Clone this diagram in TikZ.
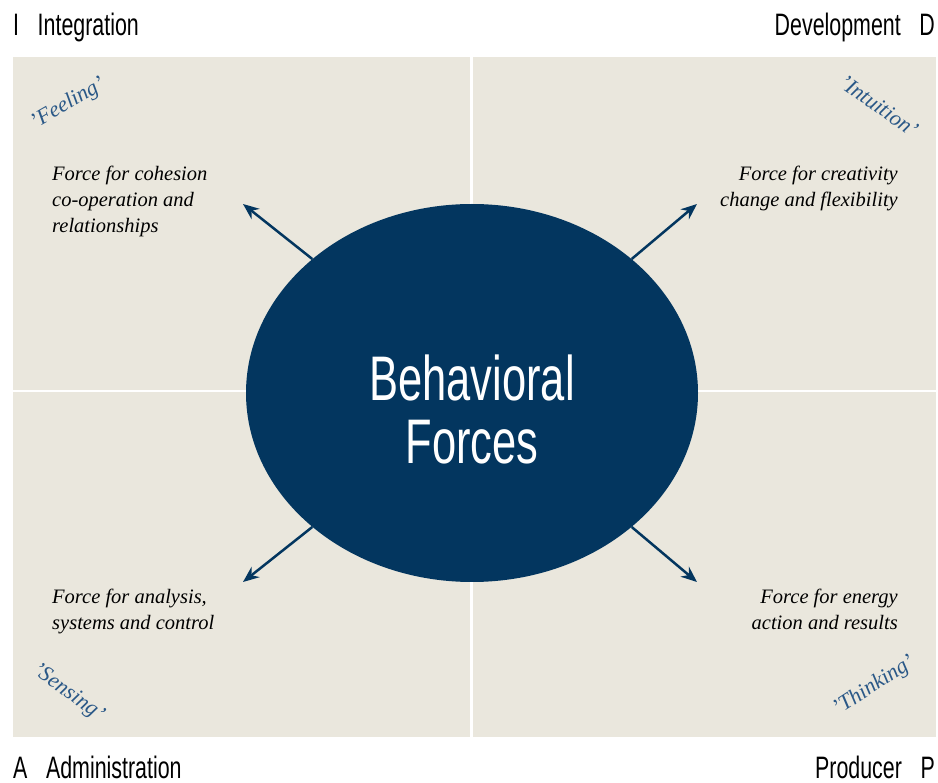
\documentclass[tikz,border=0pt]{standalone}
\usepackage{fontspec}
\setmainfont{Liberation Serif}
\newfontfamily\condfont[FakeStretch=0.69]{Liberation Sans}
\definecolor{navy}{HTML}{03365F}
\definecolor{quill}{HTML}{2A5887}
\definecolor{paper}{HTML}{EAE7DD}
\usetikzlibrary{arrows.meta,shapes.geometric}
\tikzset{
  corner/.style={font=\condfont\fontsize{31}{34}\selectfont, inner sep=0pt},
  force/.style={font=\itshape\fontsize{20.5}{26}\selectfont, inner sep=0pt},
  mood/.style={font=\itshape\fontsize{22}{24}\selectfont, text=quill, inner sep=0pt},
  push/.style={navy, line width=2.5pt, -{Stealth[length=16pt,width=13pt]}}
}
\begin{document}
\begin{tikzpicture}[x=1pt,y=-1pt]
  \useasboundingbox (0,0) rectangle (938,783);
  % quadrants
  \fill[paper] (13,57) rectangle (936,737);
  \draw[white, line width=2.5pt] (471.5,57) -- (471.5,737) (13,391) -- (936,391);
  % corner labels
  \node[corner, anchor=base west] (integ) at (13,36) {I\hspace{0.6em}Integration};
  \node[corner, anchor=base east] (devel) at (935,36) {Development\hspace{0.6em}D};
  \node[corner, anchor=base west] (admin) at (13,778) {A\hspace{0.6em}Administration};
  \node[corner, anchor=base east] (prod) at (935,778) {Producer\hspace{0.6em}P};
  % the four moods
  \node[mood, rotate=30] (feel) at (68,104) {'Feeling'};
  \node[mood, rotate=-35] (intu) at (879,106) {'Intuition'};
  \node[mood, rotate=-36] (sens) at (68,693) {'Sensing'};
  \node[mood, rotate=33] (think) at (874,686) {'Thinking'};
  % forces
  \node[force, anchor=north west, align=left] (coh) at (52,166)
    {Force for cohesion\\co-operation and\\relationships};
  \node[force, anchor=north east, align=right] (crea) at (898,166)
    {Force for creativity\\change and flexibility};
  \node[force, anchor=north west, align=left] (anal) at (52,589)
    {Force for analysis,\\systems and control};
  \node[force, anchor=north east, align=right] (ener) at (898,589)
    {Force for energy\\action and results};
  % centre
  \node[ellipse, fill=navy, minimum width=452pt, minimum height=378pt, inner sep=0pt] (core) at (472,393) {};
  \node[text=white, align=center, inner sep=0pt,
    font=\condfont\fontsize{63}{63}\selectfont] (title) at (472,409) {Behavioral\\Forces};
  \coordinate (tl) at (243,204);
  \coordinate (tr) at (697,204);
  \coordinate (bl) at (243,582);
  \coordinate (br) at (697,582);
  \draw[push] (core.140) -- (tl);
  \draw[push] (core.40) -- (tr);
  \draw[push] (core.-140) -- (bl);
  \draw[push] (core.-40) -- (br);
\end{tikzpicture}
\end{document}
